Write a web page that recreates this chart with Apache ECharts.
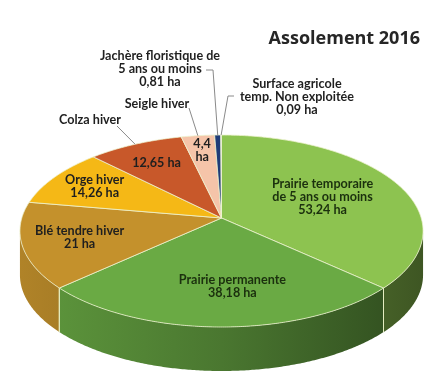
<!DOCTYPE html>
<html><head><meta charset="utf-8">
<script src="https://cdn.jsdelivr.net/npm/echarts@6/dist/echarts.min.js"></script>
<style>html,body{margin:0;padding:0;background:#fff}#c{width:433px;height:378px}</style>
</head><body><div id="c"></div>
<script>
const title = 'Assolement 2016';
const categories = [
  'Prairie temporaire\nde 5 ans ou moins',
  'Prairie permanente',
  'Blé tendre hiver',
  'Orge hiver',
  'Colza hiver',
  'Seigle hiver',
  'Jachère floristique de\n5 ans ou moins',
  'Surface agricole\ntemp. Non exploitée'
];
const values = [53.24, 38.18, 21, 14.26, 12.65, 4.4, 0.81, 0.09];
const colors = ['#8dc350', '#6aaa44', '#c4912c', '#f5b816', '#c8582a', '#f5c4a9', '#1f3c78', '#9fb4dc'];

// layout / style config (not data)
const G = {cx: 221.5, cy: 218, c: 199.7, a: 94.24, b: 0.1354, h: 44};
const labelLayout = [
  {r: 0.57, dx: 0},
  {r: 0.66, dx: 11},
  {r: 0.70, dx: -4},
  {r: 0.75, dx: 0},
  {r: 0.73, dx: 0, valueOnly: true, outer: {x: 90, y: 120, line: [[117, 126]]}},
  {r: 0.80, dx: 0, valueOnly: true, breakValue: true, outer: {x: 157, y: 104, line: [[189, 108]]}},
  {outer: {x: 160, y: 69, full: true, line: [[206, 70], [213, 70]]}},
  {outer: {x: 297, y: 97, full: true, line: [[234, 96], [228, 96]]}}
];

const total = values.reduce((s, v) => s + v, 0);
const starts = [];
{ let acc = 0; values.forEach(v => { starts.push(acc / total * 360); acc += v; }); }

function P(r, deg) {
  const t = deg * Math.PI / 180;
  const u = r * Math.sin(t), v = -r * Math.cos(t);
  const d = 1 - G.b * v;
  return [G.cx + G.c * u / d, G.cy + G.a * v / d];
}
function shade(hex, f) {
  const n = parseInt(hex.slice(1), 16);
  const r = (n >> 16) & 255, g = (n >> 8) & 255, b = n & 255;
  return 'rgb(' + Math.round(r * f) + ',' + Math.round(g * f) + ',' + Math.round(b * f) + ')';
}
function fmt(v) { return String(v).replace('.', ',') + ' ha'; }
function arc(a0, a1) {
  const n = Math.max(2, Math.ceil((a1 - a0) / 0.5));
  const pts = [];
  for (let k = 0; k <= n; k++) pts.push(P(1, a0 + (a1 - a0) * k / n));
  return pts;
}
const FRONT0 = Math.acos(-G.b) * 180 / Math.PI, FRONT1 = 360 - FRONT0;
const FONT = 'bold 12.6px Lato';
const TXT = '#1f1f1f';

function renderItem(params, api) {
  const i = params.dataIndex;
  const v = api.value(0);
  const a0 = starts[i], a1 = a0 + v / total * 360;
  const col = colors[i];
  const children = [];
  const w0 = Math.max(a0, FRONT0), w1 = Math.min(a1, FRONT1);
  if (w1 > w0) {
    const top = arc(w0, w1);
    const bot = top.map(p => [p[0], p[1] + G.h]).reverse();
    children.push({
      type: 'polygon', z2: 1,
      shape: {points: top.concat(bot)},
      style: {
        fill: new echarts.graphic.LinearGradient(20, 0, 423, 0, [
          {offset: 0, color: shade(col, 0.9)},
          {offset: 0.5, color: shade(col, 0.7)},
          {offset: 1, color: shade(col, 0.44)}
        ], true),
        stroke: null
      }
    });
    [a0, a1].forEach(ang => {
      if (ang > FRONT0 && ang < FRONT1) {
        const p = P(1, ang);
        children.push({type: 'line', z2: 2, shape: {x1: p[0], y1: p[1], x2: p[0], y2: p[1] + G.h},
          style: {stroke: '#e4ecc0', lineWidth: 1}});
      }
    });
  }
  children.push({
    type: 'polygon', z2: 3,
    shape: {points: [[G.cx, G.cy]].concat(arc(a0, a1))},
    style: {fill: col, stroke: '#eef3cf', lineWidth: 0.8}
  });
  const L = labelLayout[i];
  const mid = (a0 + a1) / 2;
  const name = categories[i];
  if (L.r) {
    const p = P(L.r, mid);
    const txt = L.valueOnly ? (L.breakValue ? fmt(v).replace(' ', '\n') : fmt(v)) : name + '\n' + fmt(v);
    children.push({type: 'text', z2: 10, silent: true,
      style: {text: txt, x: p[0] + (L.dx || 0), y: p[1], align: 'center', verticalAlign: 'middle',
        font: FONT, fill: i < 2 ? '#1b300e' : TXT, lineHeight: 13}});
  }
  if (L.outer) {
    const o = L.outer;
    const txt = o.full ? name + '\n' + fmt(v) : name;
    children.push({type: 'text', z2: 10, silent: true,
      style: {text: txt, x: o.x, y: o.y, align: 'center', verticalAlign: 'middle',
        font: FONT, fill: TXT, lineHeight: 13}});
    const rim = P(1, mid);
    children.push({type: 'polyline', z2: 9, silent: true,
      shape: {points: o.line.concat([rim])},
      style: {stroke: '#8a8a8a', lineWidth: 1, fill: null}});
  }
  return {type: 'group', children: children};
}

const chart = echarts.init(document.getElementById('c'), null, {renderer: 'canvas'});
chart.setOption({
  animation: false,
  backgroundColor: '#ffffff',
  title: {
    text: title, right: 8, top: 25,
    textStyle: {fontFamily: 'Open Sans', fontWeight: 'bold', fontSize: 18, color: '#262626'}
  },
  series: [{
    type: 'custom',
    coordinateSystem: 'none',
    renderItem: renderItem,
    data: values.map((v, i) => ({name: categories[i], value: [v]}))
  }]
});
</script>
</body></html>
